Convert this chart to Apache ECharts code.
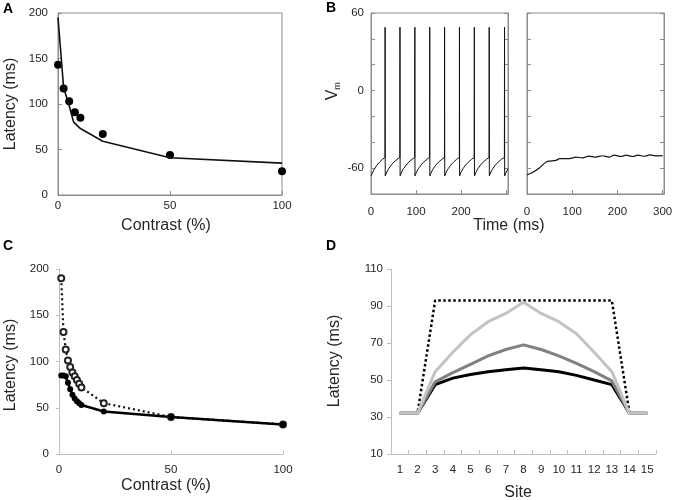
<!DOCTYPE html>
<html>
<head>
<meta charset="utf-8">
<script src="https://cdn.jsdelivr.net/npm/echarts@6/dist/echarts.min.js"></script>
<style>html,body{margin:0;padding:0;background:#fff}#c{width:679px;height:500px}</style>
</head>
<body>
<div id="c"></div>
<script>
// ---------- Panel A ----------
const aModelContrast = [0, 2.5, 5, 7, 10, 20, 50, 100];
const aModelLatency  = [195, 118, 98, 80, 73, 59, 41, 35];
const aDataContrast  = [0, 2.5, 5, 7.5, 10, 20, 50, 100];
const aDataLatency   = [143, 117, 103, 91, 85, 67, 44, 26];
const aXTicks = [0, 50, 100];
const aYTicks = [0, 50, 100, 150, 200];

// ---------- Panel B ----------
const bSpikingTime = [0,4,8,13,19,25,31,31.3,31.6,
  35,39,45,51,58,64,64.3,64.6,
  68,72,78,84,91,97,97.3,97.6,
  101,105,111,117,124,130,130.3,130.6,
  134,138,144,150,157,163,163.3,163.6,
  167,171,177,183,190,196,196.3,196.6,
  200,204,210,216,223,229,229.3,229.6,
  233,237,243,249,256,262,262.3,262.6,
  266,270,276,282,289,296,296.3,296.6,
  300,304];
const bSpikingVm = [-66,-63,-60.5,-57.8,-55.3,-53.3,-51.7,49,-66,
  -63,-60.5,-57.6,-55.3,-53.2,-51.7,49,-66,
  -63,-60.5,-57.6,-55.3,-53.2,-51.7,49,-66,
  -63,-60.5,-57.6,-55.3,-53.2,-51.7,49,-66,
  -63,-60.5,-57.6,-55.3,-53.2,-51.7,49,-66,
  -63,-60.5,-57.6,-55.3,-53.2,-51.7,49,-66,
  -63,-60.5,-57.6,-55.3,-53.2,-51.7,49,-66,
  -63,-60.5,-57.6,-55.3,-53.2,-51.7,49,-66,
  -63,-60.5,-57.6,-55.3,-53.2,-51.7,49,-66,
  -63,-60.5];
const bSubTime = [0,13,28,39,46,64,72,94,108,123,137,152,167,181,193,208,219,234,245,260,271,285,300];
const bSubVm   = [-65.1,-63.1,-59.7,-56.1,-54.8,-54,-52.7,-52.7,-51.5,-52,-50.7,-51.5,-50.4,-51.5,-50,-51,-50,-51,-50,-50.8,-49.8,-50.5,-50.3];
const bYLabels = [-60, 0, 60];

// ---------- Panel C ----------
const cContrast = [1, 2, 3, 4, 5, 6, 7, 8, 9, 10, 20, 50, 100];
const cDotted   = [190, 132, 113, 101, 94, 88, 84, 80, 76, 72, 55, 40, 32];
const cSolid    = [85, 85, 84, 77, 70, 64, 60, 57, 55, 53, 46, 40, 32];

// ---------- Panel D ----------
const dSites  = ['1','2','3','4','5','6','7','8','9','10','11','12','13','14','15'];
const dDotted = [32, 32, 93, 93, 93, 93, 93, 93, 93, 93, 93, 93, 93, 32, 32];
const dBlack  = [32, 32, 47.5, 51, 53, 54.5, 55.5, 56.5, 55.5, 54.5, 52.5, 50, 47.5, 32, 32];
const dMid    = [32, 32, 49, 54, 58.5, 63, 66.5, 69, 66.5, 63, 59, 54.5, 49.5, 32, 32];
const dLight  = [32, 32, 54.5, 65, 74.5, 81.5, 86, 92, 86, 81.5, 75, 65, 54.5, 32, 32];

const zip = (xs, ys) => xs.map((x, i) => [x, ys[i]]);
const FONT = 'Liberation Sans';
const TXT = '#262626';
const FRAME = '#8c8c8c';
const LIGHTAX = '#bfbfbf';

function valAxis(o) {
  return Object.assign({
    type: 'value',
    splitLine: { show: false },
    axisLine: { show: true, onZero: false, lineStyle: { color: o.lineColor || FRAME, width: 1 } },
    axisTick: { show: true, inside: o.tickInside !== false, length: o.tickLen || 4, lineStyle: { color: o.lineColor || FRAME } },
    axisLabel: { show: o.labelShow !== false, color: TXT, fontFamily: FONT, fontSize: 11.5, margin: o.margin || 8,
                 formatter: o.formatter },
  }, o.extra);
}

const option = {
  animation: false,
  backgroundColor: '#fff',
  grid: [
    { left: 58, top: 13, width: 224, height: 182, show: true, borderColor: FRAME, borderWidth: 1 },
    { left: 371, top: 13, width: 137, height: 181, show: true, borderColor: FRAME, borderWidth: 1 },
    { left: 527, top: 13, width: 137, height: 181, show: true, borderColor: FRAME, borderWidth: 1 },
    { left: 59, top: 269, width: 224, height: 185 },
    { left: 391, top: 269, width: 265, height: 185 }
  ],
  xAxis: [
    valAxis({ margin: 5, formatter: v => aXTicks.includes(v) ? String(v) : '', extra: { gridIndex: 0, min: 0, max: 100, interval: 50 } }),
    valAxis({ margin: 12, formatter: v => (v % 100 === 0 && v < 300) ? String(v) : '', extra: { gridIndex: 1, min: 0, max: 304, interval: 100 } }),
    valAxis({ margin: 12, formatter: v => (v % 100 === 0) ? String(v) : '', extra: { gridIndex: 2, min: 0, max: 303, interval: 100 } }),
    valAxis({ margin: 10, lineColor: LIGHTAX, tickLen: 3, extra: { gridIndex: 3, min: 0, max: 100, interval: 50 } }),
    {
      type: 'category', gridIndex: 4, data: dSites, boundaryGap: true,
      axisLine: { show: true, lineStyle: { color: LIGHTAX } },
      axisTick: { show: true, inside: true, length: 4, lineStyle: { color: LIGHTAX } },
      axisLabel: { color: TXT, fontFamily: FONT, fontSize: 11.5, margin: 10, interval: 0 },
      splitLine: { show: false }
    }
  ],
  yAxis: [
    valAxis({ margin: 10, formatter: v => aYTicks.includes(v) ? String(v) : '', extra: { gridIndex: 0, min: 0, max: 200, interval: 50 } }),
    valAxis({ margin: 7, formatter: v => bYLabels.includes(v) ? String(v) : '', extra: { gridIndex: 1, min: -80, max: 60, interval: 20 } }),
    valAxis({ labelShow: false, extra: { gridIndex: 1, min: -80, max: 60, interval: 20, position: 'right' } }),
    valAxis({ labelShow: false, extra: { gridIndex: 2, min: -80, max: 60, interval: 20 } }),
    valAxis({ labelShow: false, extra: { gridIndex: 2, min: -80, max: 60, interval: 20, position: 'right' } }),
    valAxis({ margin: 10, lineColor: LIGHTAX, tickInside: false, tickLen: 3, extra: { gridIndex: 3, min: 0, max: 200, interval: 50 } }),
    valAxis({ margin: 8, lineColor: LIGHTAX, tickInside: false, tickLen: 4, extra: { gridIndex: 4, min: 10, max: 110, interval: 20 } })
  ],
  series: [
    { type: 'line', xAxisIndex: 0, yAxisIndex: 0, data: zip(aModelContrast, aModelLatency), showSymbol: false, symbol: 'none',
      lineStyle: { color: '#111', width: 1.6 } },
    { type: 'scatter', xAxisIndex: 0, yAxisIndex: 0, data: zip(aDataContrast, aDataLatency), symbol: 'circle', symbolSize: 8,
      itemStyle: { color: '#000', opacity: 1 }, clip: false },
    { type: 'line', xAxisIndex: 1, yAxisIndex: 1, data: zip(bSpikingTime, bSpikingVm), symbol: 'none',
      lineStyle: { color: '#111', width: 1 } },
    { type: 'line', xAxisIndex: 2, yAxisIndex: 3, data: zip(bSubTime, bSubVm), symbol: 'none', smooth: 0.2,
      lineStyle: { color: '#111', width: 1.2 } },
    { type: 'line', xAxisIndex: 3, yAxisIndex: 5, data: zip(cContrast, cDotted), symbol: 'emptyCircle', symbolSize: 6, showAllSymbol: true,
      lineStyle: { color: '#111', width: 2.2, type: [2, 3] }, itemStyle: { color: '#222', borderColor: '#222', borderWidth: 1.5 } },
    { type: 'line', xAxisIndex: 3, yAxisIndex: 5, data: zip(cContrast, cSolid), symbol: 'circle', symbolSize: 6, showAllSymbol: true,
      lineStyle: { color: '#000', width: 2.5 }, itemStyle: { color: '#000' } },
    { type: 'line', xAxisIndex: 4, yAxisIndex: 6, data: dDotted, symbol: 'none',
      lineStyle: { color: '#000', width: 2.5, type: [2.5, 2.5] } },
    { type: 'line', xAxisIndex: 4, yAxisIndex: 6, data: dBlack, symbol: 'none',
      lineStyle: { color: '#000', width: 3 } },
    { type: 'line', xAxisIndex: 4, yAxisIndex: 6, data: dMid, symbol: 'none',
      lineStyle: { color: '#808080', width: 3 } },
    { type: 'line', xAxisIndex: 4, yAxisIndex: 6, data: dLight, symbol: 'none',
      lineStyle: { color: '#c3c3c3', width: 3 } }
  ],
  graphic: [
    { type: 'text', x: 8, y: 9, style: { text: 'A', font: 'bold 14px "Liberation Sans"', fill: '#000', align: 'center', verticalAlign: 'middle' } },
    { type: 'text', x: 331, y: 8, style: { text: 'B', font: 'bold 14px "Liberation Sans"', fill: '#000', align: 'center', verticalAlign: 'middle' } },
    { type: 'text', x: 8, y: 246, style: { text: 'C', font: 'bold 14px "Liberation Sans"', fill: '#000', align: 'center', verticalAlign: 'middle' } },
    { type: 'text', x: 331, y: 246, style: { text: 'D', font: 'bold 14px "Liberation Sans"', fill: '#000', align: 'center', verticalAlign: 'middle' } },

    { type: 'text', x: 11, y: 104, rotation: Math.PI / 2, style: { text: 'Latency (ms)', font: '16px "Liberation Sans"', fill: TXT, align: 'center', verticalAlign: 'middle' } },
    { type: 'text', x: 166, y: 226, style: { text: 'Contrast (%)', font: '16px "Liberation Sans"', fill: TXT, align: 'center', verticalAlign: 'middle' } },
    { type: 'group', x: 333, y: 95, rotation: Math.PI / 2, children: [
      { type: 'text', x: 0, y: 0, style: { text: 'V', font: '16px "Liberation Sans"', fill: TXT, align: 'center', verticalAlign: 'middle' } },
      { type: 'text', x: 9, y: 5, style: { text: 'm', font: '9px "Liberation Sans"', fill: TXT, align: 'center', verticalAlign: 'middle' } }
    ] },
    { type: 'text', x: 509, y: 226, style: { text: 'Time (ms)', font: '16px "Liberation Sans"', fill: TXT, align: 'center', verticalAlign: 'middle' } },
    { type: 'text', x: 11, y: 365, rotation: Math.PI / 2, style: { text: 'Latency (ms)', font: '16px "Liberation Sans"', fill: TXT, align: 'center', verticalAlign: 'middle' } },
    { type: 'text', x: 166, y: 486, style: { text: 'Contrast (%)', font: '16px "Liberation Sans"', fill: TXT, align: 'center', verticalAlign: 'middle' } },
    { type: 'text', x: 335, y: 361, rotation: Math.PI / 2, style: { text: 'Latency (ms)', font: '16px "Liberation Sans"', fill: TXT, align: 'center', verticalAlign: 'middle' } },
    { type: 'text', x: 518, y: 493, style: { text: 'Site', font: '16px "Liberation Sans"', fill: TXT, align: 'center', verticalAlign: 'middle' } }
  ]
};
const chart = echarts.init(document.getElementById('c'), null, { renderer: 'canvas' });
chart.setOption(option);
</script>
</body>
</html>
